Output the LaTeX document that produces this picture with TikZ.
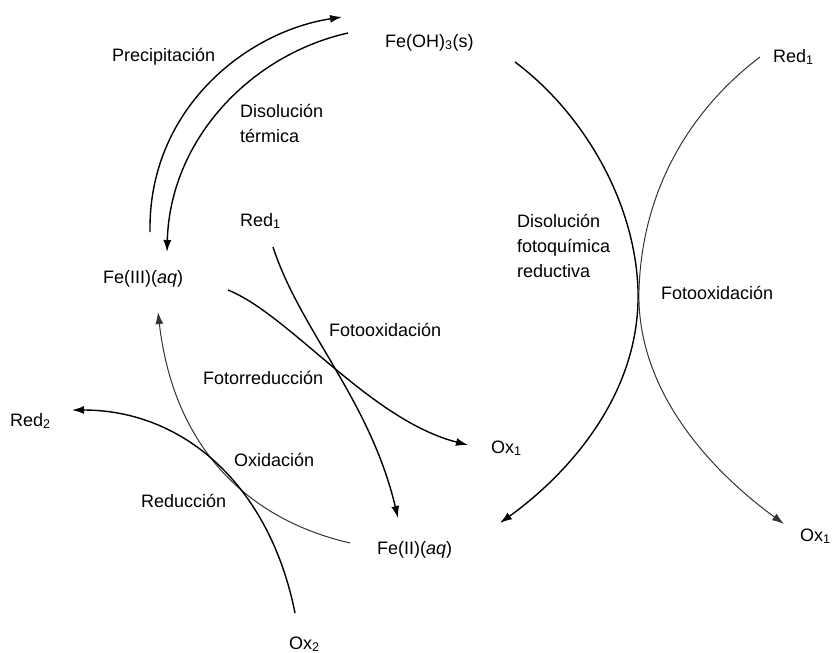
\documentclass[tikz,border=0pt]{standalone}
\usepackage{fontspec}
\setmainfont{Liberation Sans}
\usetikzlibrary{arrows.meta}
\begin{document}
\begin{tikzpicture}[x=1pt,y=-1pt,
  lbl/.style={anchor=base west, inner sep=0pt, font=\fontsize{18}{24}\selectfont},
  mlbl/.style={anchor=west, inner sep=0pt, align=left, font=\fontsize{18}{25}\selectfont},
  flow/.style={line width=1.4pt, black},
  light/.style={line width=1pt, black!80},
  tip/.style={-{Latex[length=12pt,width=8pt]}}]
\useasboundingbox (0,0) rectangle (833,653);

% labels
\node[lbl] (prec) at (112,61) {Precipitación};
\node[lbl] (feoh) at (385,47) {Fe(OH)\textsubscript{3}(s)};
\node[lbl] (redtr) at (773,62) {Red\textsubscript{1}};
\node[mlbl] (dister) at (240,123) {Disolución\\térmica};
\node[lbl] (redm) at (240,226) {Red\textsubscript{1}};
\node[lbl] (fe3) at (103,283) {Fe(III)(\textit{aq})};
\node[mlbl] (disfoto) at (517,246) {Disolución\\fotoquímica\\reductiva};
\node[lbl] (fotoxr) at (661,299) {Fotooxidación};
\node[lbl] (fotoxm) at (329,336) {Fotooxidación};
\node[lbl] (fotored) at (203,384) {Fotorreducción};
\node[lbl] (red2) at (10,426) {Red\textsubscript{2}};
\node[lbl] (oxid) at (234,466) {Oxidación};
\node[lbl] (reduc) at (141,507) {Reducción};
\node[lbl] (ox1m) at (491,453) {Ox\textsubscript{1}};
\node[lbl] (fe2) at (377,554) {Fe(II)(\textit{aq})};
\node[lbl] (ox2) at (289,649) {Ox\textsubscript{2}};
\node[lbl] (ox1r) at (800,541) {Ox\textsubscript{1}};

% end points of the connectors
\coordinate (pA) at (150,232);
\coordinate (pB) at (342,17);
\coordinate (dA) at (348,33);
\coordinate (dB) at (167,252);
\coordinate (bA) at (515,62);
\coordinate (bM) at (638,290);
\coordinate (bB) at (500,523);
\coordinate (rA) at (760,57);
\coordinate (rM) at (639,290);
\coordinate (rB) at (784,524);
\coordinate (mA) at (273,247);
\coordinate (mB) at (398,518);
\coordinate (fA) at (228,290);
\coordinate (fB) at (468,445);
\coordinate (gA) at (350,543);
\coordinate (gB) at (158,312);
\coordinate (oA) at (295,613);
\coordinate (oB) at (72,410);

% thermal cycle
\draw[flow,tip] (pA) .. controls (148,110) and (245,32) .. (pB);
\draw[flow,tip] (dA) .. controls (250,55) and (170,140) .. (dB);

% photochemical reductive dissolution
\draw[flow,tip] (bA) .. controls (582,112) and (635,200) .. (bM)
  .. controls (641,400) and (560,480) .. (bB);
% photooxidation of Red1 (right)
\draw[light,tip] (rA) .. controls (690,110) and (642,190) .. (rM)
  .. controls (636,390) and (710,470) .. (rB);

% photoreduction / photooxidation in solution
\draw[flow,tip] (mA) .. controls (300,330) and (370,400) .. (mB);
\draw[flow,tip] (fA) .. controls (290,315) and (370,420) .. (fB);

% oxidation / reduction
\draw[light,tip] (gA) .. controls (242,518) and (173,442) .. (gB);
\draw[flow,tip] (oA) .. controls (270,487) and (185,410) .. (oB);
\end{tikzpicture}
\end{document}
